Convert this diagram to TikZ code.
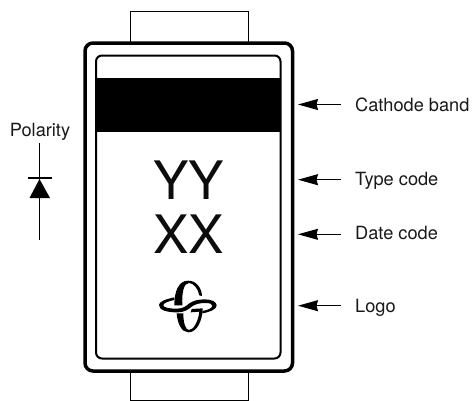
\documentclass[tikz,border=0pt]{standalone}
\usepackage{fontspec}
\setmainfont{TeX Gyre Heros}
\usetikzlibrary{arrows.meta}
\tikzset{
  thinline/.style={draw=black,line width=1pt},
  lbl/.style={font=\fontsize{18.2}{20}\selectfont,anchor=base west,inner sep=0pt,text=black!90},
  big/.style={font=\fontsize{53}{53}\selectfont,inner sep=0pt,anchor=base,text=black!95},
  pointer/.style={line width=1pt,-{Stealth[length=20pt,width=11pt,inset=1.5pt]}}
}
\begin{document}
\begin{tikzpicture}[x=1pt,y=-1pt]
\useasboundingbox (0,0) rectangle (473,400);
\fill[white] (0,0) rectangle (473,400);
% tabs
\node[thinline,minimum width=118pt,minimum height=31pt,inner sep=0pt,anchor=south west] (toptab) at (129.5,43) {};
\node[thinline,minimum width=118pt,minimum height=29pt,inner sep=0pt,anchor=north west] (bottab) at (129.5,371) {};
% body
\draw[fill=white,line width=3.5pt,rounded corners=8pt] (85,43) rectangle (292.5,371);
\draw[line width=2pt,rounded corners=6pt] (96,55.5) rectangle (280.5,358.5);
\fill (96,78) rectangle (280.5,132);
\node[big] (yy) at (188.5,199) {YY};
\node[big] (xx) at (188.5,253) {XX};
% logo
\begin{scope}[shift={(120,280)},scale=1/3]
\fill (163,76) .. controls (163,35) and (175,2) .. (205,2) .. controls (230,2) and (245,25) .. (246,48) -- (238,46) .. controls (234,25) and (220,9) .. (207,9) .. controls (192,9) and (185,35) .. (187,76) -- cycle;
\fill (163,52) .. controls (135,58) and (117,65) .. (117,75) .. controls (117,90) and (140,97) .. (170,97) .. controls (195,97) and (205,88) .. (215,80) .. controls (225,72) and (240,69) .. (255,69) .. controls (270,69) and (277,72) .. (277,77) .. controls (277,84) and (265,90) .. (247,93) -- (247,100) .. controls (270,96) and (290,88) .. (290,76) .. controls (290,66) and (275,58) .. (255,58) .. controls (235,58) and (220,62) .. (208,70) .. controls (198,78) and (190,86) .. (170,86) .. controls (150,86) and (130,83) .. (130,76) .. controls (130,70) and (140,65) .. (163,60) -- cycle;
\fill (170,100) .. controls (172,130) and (185,157) .. (205,157) .. controls (230,157) and (247,125) .. (248,85) -- (215,87) -- (212,97) -- (238,95) .. controls (235,125) and (220,150) .. (207,150) .. controls (197,150) and (190,130) .. (190,100) -- cycle;
\end{scope}
% polarity
\node[lbl,anchor=base] (pol) at (40,136) {Polarity};
\coordinate (d1) at (39.5,143);
\coordinate (d2) at (39.5,240);
\draw[thinline] (d1) -- (d2);
\draw[thinline,line width=1.3pt] (28,178) -- (52,178);
\fill (39.5,179) -- (50,198) -- (29.5,198) -- cycle;
% labels
\node[lbl] (cb) at (355,111.7) {Cathode band};
\node[lbl] (tc) at (355,185.7) {Type code};
\node[lbl] (dc) at (355,239.7) {Date code};
\node[lbl] (lg) at (355,312) {Logo};
\coordinate (a1) at (298,104.5);
\coordinate (a2) at (298,179.7);
\coordinate (a3) at (298,234.3);
\coordinate (a4) at (298,305.7);
\coordinate (t1) at (341,104.5);
\coordinate (t2) at (341,179.7);
\coordinate (t3) at (341,234.3);
\coordinate (t4) at (341,305.7);
\draw[pointer] (t1) -- (a1);
\draw[pointer] (t2) -- (a2);
\draw[pointer] (t3) -- (a3);
\draw[pointer] (t4) -- (a4);
\end{tikzpicture}
\end{document}
